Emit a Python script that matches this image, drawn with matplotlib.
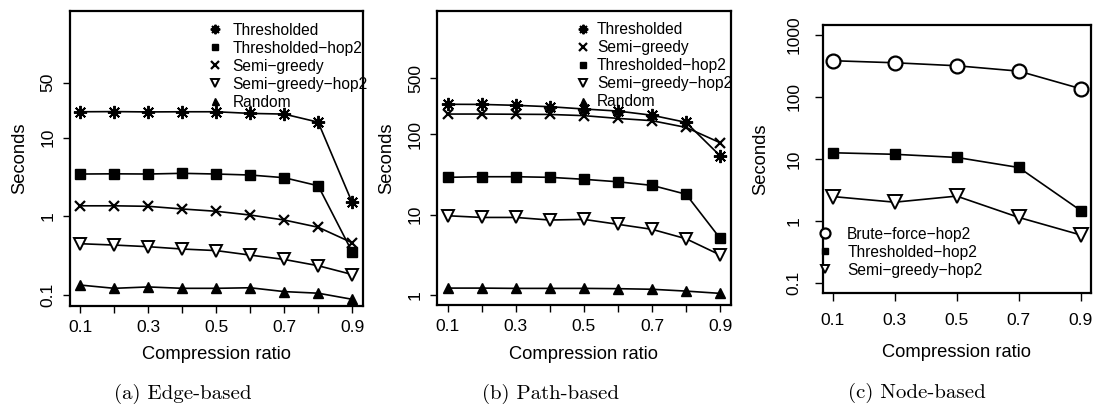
import matplotlib
matplotlib.use("Agg")
import matplotlib.pyplot as plt
from matplotlib.lines import Line2D
from matplotlib.font_manager import FontProperties
import numpy as np

plt.rcParams['font.family'] = ['Liberation Sans', 'DejaVu Sans']

M = "\u2212"

# ---------------- data ----------------
ratios = [0.1, 0.2, 0.3, 0.4, 0.5, 0.6, 0.7, 0.8, 0.9]
ratios_c = [0.1, 0.3, 0.5, 0.7, 0.9]

# (a) Edge-based
a_thresholded = [21.3, 21.4, 21.2, 21.3, 21.3, 20.3, 19.9, 15.7, 1.49]
a_thresholded_hop2 = [3.43, 3.45, 3.43, 3.50, 3.43, 3.33, 3.08, 2.43, 0.35]
a_semi_greedy = [1.35, 1.35, 1.33, 1.23, 1.15, 1.03, 0.89, 0.72, 0.457]
a_semi_greedy_hop2 = [0.444, 0.427, 0.407, 0.38, 0.363, 0.318, 0.28, 0.233, 0.18]
a_random = [0.132, 0.120, 0.125, 0.120, 0.120, 0.122, 0.109, 0.104, 0.087]

# (b) Path-based
b_thresholded = [237, 236, 230, 221, 207, 195, 173, 141, 54]
b_semi_greedy = [179, 179, 178, 177, 171, 158, 148, 122, 78.6]
b_thresholded_hop2 = [29.1, 29.6, 29.6, 29.1, 27.5, 25.6, 23.1, 17.9, 5.05]
b_semi_greedy_hop2 = [9.66, 9.2, 9.2, 8.54, 8.7, 7.55, 6.54, 4.99, 3.13]
b_random = [1.21, 1.21, 1.20, 1.20, 1.20, 1.19, 1.17, 1.11, 1.04]

# (c) Node-based
c_brute_force_hop2 = [381, 353, 316, 259, 135]
c_thresholded_hop2 = [12.6, 11.9, 10.6, 7.3, 1.48]
c_semi_greedy_hop2 = [2.49, 2.02, 2.53, 1.15, 0.60]

xticks_ab = [0.1, 0.2, 0.3, 0.4, 0.5, 0.6, 0.7, 0.8, 0.9]
xticklabels_ab = ['0.1', '', '0.3', '', '0.5', '', '0.7', '', '0.9']
xticks_c = [0.1, 0.3, 0.5, 0.7, 0.9]
xticklabels_c = ['0.1', '0.3', '0.5', '0.7', '0.9']
yticks_a = [0.1, 1, 10, 50]
yticks_b = [1, 10, 100, 500]
yticks_c = [0.1, 1, 10, 100, 1000]

captions = ['(a) Edge-based', '(b) Path-based', '(c) Node-based']

# ---------------- styles ----------------
AST = (8, 2, 0)
styles = {
    'Thresholded': dict(marker=AST, ms=9.5, mew=1.4, mfc='black', mec='black'),
    'Thresholded-hop2': dict(marker='s', ms=6.5, mew=1, mfc='black', mec='black'),
    'Semi-greedy': dict(marker='x', ms=7.5, mew=1.6, mfc='black', mec='black'),
    'Semi-greedy-hop2': dict(marker='v', ms=8.5, mew=1.4, mfc='white', mec='black'),
    'Random': dict(marker='^', ms=7, mew=1, mfc='black', mec='black'),
    'Brute-force-hop2': dict(marker='o', ms=10, mew=1.6, mfc='white', mec='black'),
}

fig = plt.figure(figsize=(10.96, 4.08), dpi=100)
W, H = 1096.0, 408.0

def axes_px(l, r, t, b):
    return fig.add_axes([l / W, 1 - b / H, (r - l) / W, (b - t) / H])

ax_a = axes_px(69.5, 363.0, 11.0, 306.0)
ax_b = axes_px(436.7, 731.0, 11.3, 305.0)
ax_c = axes_px(822.7, 1090.7, 24.7, 293.3)

def style_axes(ax, xt, xtl, yt, ylim, ylab_x, xlab_y, tlen, xpad, ypad):
    ax.set_yscale('log')
    ax.set_xlim(0.068, 0.932)
    ax.set_ylim(*ylim)
    ax.set_xticks(xt)
    ax.set_xticklabels(xtl)
    ax.set_yticks(yt)
    ax.set_yticklabels([('%g' % v) for v in yt], rotation=90, va='center')
    ax.minorticks_off()
    ax.tick_params(axis='both', direction='out', length=tlen, width=1.0,
                   labelsize=12.5, color='black')
    ax.tick_params(axis='x', pad=xpad)
    ax.tick_params(axis='y', pad=ypad)
    for s in ax.spines.values():
        s.set_linewidth(1.6)
    ax.set_xlabel('Compression ratio', fontsize=13.2)
    ax.set_ylabel('Seconds', fontsize=13.2)
    ax.yaxis.set_label_coords(ylab_x, 0.5)
    ax.xaxis.set_label_coords(0.5, xlab_y)

def plot_series(ax, x, y, name, scale=1.0):
    st = dict(styles[name])
    st['ms'] = st['ms'] * scale
    ax.plot(x, y, color='black', lw=1.2, **st)

def add_legend(ax, names, anchor, textpad):
    handles = []
    for n in names:
        st = dict(styles[n])
        st['ms'] = st['ms'] * 0.72
        handles.append(Line2D([], [], ls='none', color='black', **st))
    labels = [n.replace('-', M) for n in names]
    fp = FontProperties(family=['Liberation Sans', 'DejaVu Sans'], size=11.2)
    leg = ax.legend(handles, labels, loc='upper left', bbox_to_anchor=anchor,
                    frameon=False, prop=fp, handlelength=1.0,
                    handletextpad=textpad, labelspacing=0.19, borderpad=0,
                    borderaxespad=0)
    return leg

# (a)
plot_series(ax_a, ratios, a_thresholded, 'Thresholded')
plot_series(ax_a, ratios, a_thresholded_hop2, 'Thresholded-hop2')
plot_series(ax_a, ratios, a_semi_greedy, 'Semi-greedy')
plot_series(ax_a, ratios, a_semi_greedy_hop2, 'Semi-greedy-hop2')
plot_series(ax_a, ratios, a_random, 'Random')
style_axes(ax_a, xticks_ab, xticklabels_ab, yticks_a,
           (10 ** -1.146, 10 ** 2.612), -0.141, -0.1356, 5, 5, 5)
add_legend(ax_a, ['Thresholded', 'Thresholded-hop2', 'Semi-greedy',
                  'Semi-greedy-hop2', 'Random'], (0.47, 0.96), 0.6)

# (b)
plot_series(ax_b, ratios, b_thresholded, 'Thresholded')
plot_series(ax_b, ratios, b_semi_greedy, 'Semi-greedy')
plot_series(ax_b, ratios, b_thresholded_hop2, 'Thresholded-hop2')
plot_series(ax_b, ratios, b_semi_greedy_hop2, 'Semi-greedy-hop2')
plot_series(ax_b, ratios, b_random, 'Random')
style_axes(ax_b, xticks_ab, xticklabels_ab, yticks_b,
           (10 ** -0.128, 10 ** 3.534), -0.14, -0.1396, 5, 5, 5)
add_legend(ax_b, ['Thresholded', 'Semi-greedy', 'Thresholded-hop2',
                  'Semi-greedy-hop2', 'Random'], (0.472, 0.962), 0.38)

# (c)
plot_series(ax_c, ratios_c, c_brute_force_hop2, 'Brute-force-hop2')
plot_series(ax_c, ratios_c, c_thresholded_hop2, 'Thresholded-hop2', 1.1)
plot_series(ax_c, ratios_c, c_semi_greedy_hop2, 'Semi-greedy-hop2', 1.15)
style_axes(ax_c, xticks_c, xticklabels_c, yticks_c,
           (10 ** -1.16, 10 ** 3.16), -0.20, -0.19, 6, 8.5, 9.5)
add_legend(ax_c, ['Brute-force-hop2', 'Thresholded-hop2', 'Semi-greedy-hop2'],
           (-0.02, 0.248), 0.92)

# captions
cap_pos = [(183, 394), (550, 394), (917, 393)]
for (cx, cy), cap in zip(cap_pos, captions):
    fig.text(cx / W, 1 - cy / H, cap, ha='center', va='center',
             fontsize=15, family=['cmr10', 'DejaVu Serif'])

fig.savefig('out.png', dpi=100)
